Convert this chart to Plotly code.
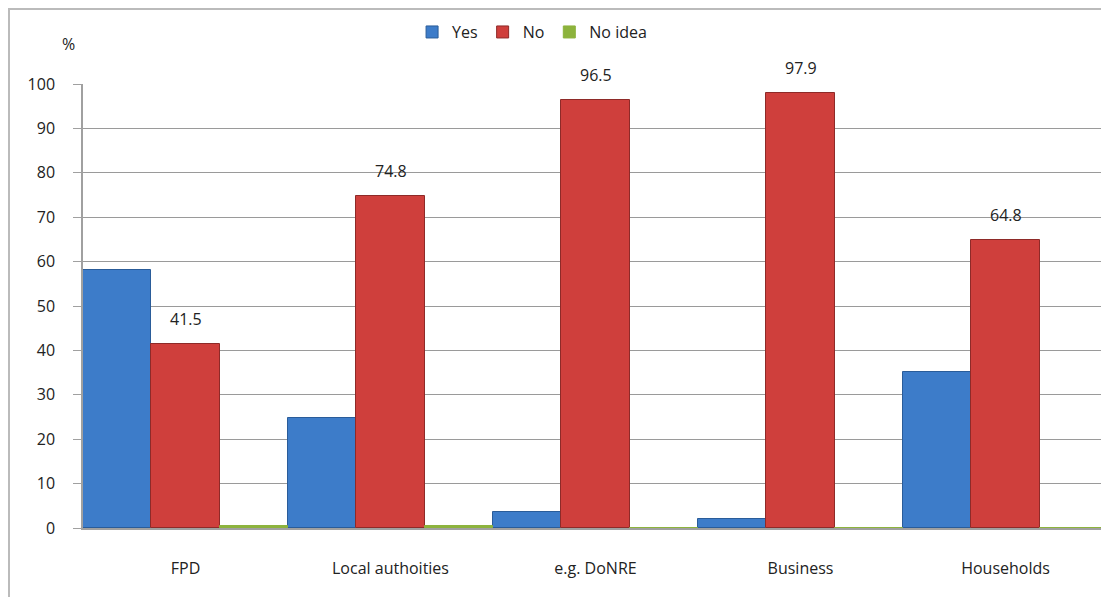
import plotly.graph_objects as go

categories = ["FPD", "Local authoities", "e.g. DoNRE", "Business", "Households"]
yes_vals = [58.0, 24.7, 3.5, 2.1, 35.2]
no_vals = [41.5, 74.8, 96.5, 97.9, 64.8]
noidea_vals = [0.5, 0.5, 0.0, 0.0, 0.0]
y_ticks = [0, 10, 20, 30, 40, 50, 60, 70, 80, 90, 100]

font_family = "Open Sans, Liberation Sans, sans-serif"

W, H = 1101, 589
L, R, T, B = 75, 1, 76, 69
pw, ph = W - L - R, H - T - B

fig = go.Figure()
fig.add_trace(go.Bar(name="Yes", x=categories, y=yes_vals,
                     marker=dict(color="#3D7CC9", line=dict(color="#2A5C99", width=1))))
fig.add_trace(go.Bar(name="No", x=categories, y=no_vals,
                     marker=dict(color="#CF3F3C", line=dict(color="#8E2A28", width=1))))
fig.add_trace(go.Bar(name="No idea", x=categories, y=noidea_vals,
                     marker=dict(color="#8DB33D", line=dict(color="#8DB33D", width=1))))

annotations = [dict(text="%", xref="paper", yref="paper", x=-0.006, y=1.09,
                    xanchor="right", yanchor="middle", showarrow=False,
                    font=dict(size=16, color="#222222"))]
for c, v in zip(categories, no_vals):
    annotations.append(dict(x=c, y=v, text=f"{v:.1f}", showarrow=False,
                            yanchor="bottom", yshift=12,
                            font=dict(size=16, color="#222222")))

fig.update_layout(
    width=W, height=H,
    barmode="group", bargap=0.0, bargroupgap=0.0,
    plot_bgcolor="white", paper_bgcolor="white",
    margin=dict(l=L, r=R, t=T, b=B),
    font=dict(family=font_family, size=15, color="#222222"),
    showlegend=True,
    legend=dict(orientation="h", xref="container", x=0.476, xanchor="center",
                yref="container", y=0.988, yanchor="top",
                font=dict(size=16), itemwidth=30, tracegroupgap=0),
    xaxis=dict(showline=True, linecolor="#A0A0A0", linewidth=1.5,
               ticks="", ticklabelstandoff=25, tickfont=dict(size=16)),
    yaxis=dict(range=[0, 100], tickvals=y_ticks, showgrid=True,
               gridcolor="#9A9A9A", gridwidth=1.2,
               showline=True, linecolor="#A0A0A0", linewidth=1.5,
               ticks="outside", ticklen=8, tickcolor="#A0A0A0",
               ticklabelstandoff=15, tickfont=dict(size=16)),
    shapes=[dict(type="rect", xref="paper", yref="paper", layer="above",
                 x0=-(L - 1) / pw, x1=1 + 3 / pw,
                 y0=-(B + 3) / ph, y1=1 + (T - 1) / ph,
                 line=dict(color="#BBBBBB", width=2), fillcolor="rgba(0,0,0,0)")],
    annotations=annotations,
)

fig.write_html("out.html")
